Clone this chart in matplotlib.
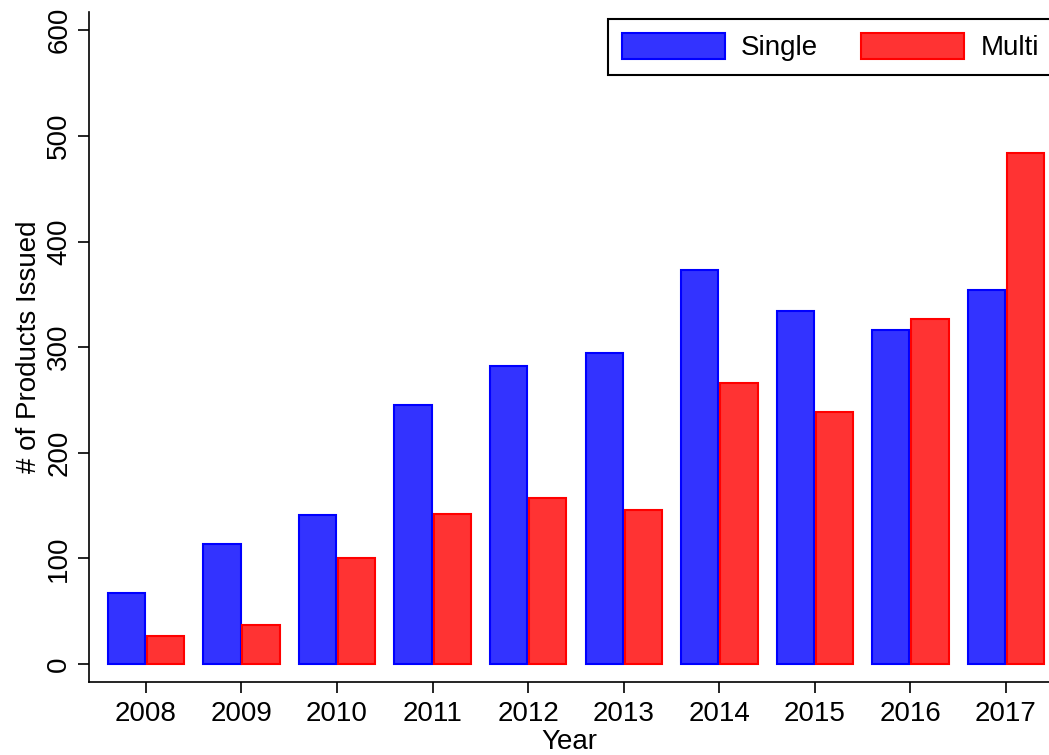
import matplotlib
matplotlib.use("Agg")
import matplotlib.pyplot as plt
import numpy as np

plt.rcParams['font.family'] = ['Liberation Sans', 'DejaVu Sans']

years = [2008, 2009, 2010, 2011, 2012, 2013, 2014, 2015, 2016, 2017]
single = [67, 114, 141, 245, 282, 294, 373, 334, 316, 354]
multi = [27, 37, 100, 142, 157, 146, 266, 239, 327, 484]
yticks = [0, 100, 200, 300, 400, 500, 600]

fig = plt.figure(figsize=(10.49, 7.55), dpi=100)
ax = fig.add_axes([0.0848, 0.0967, 0.9152, 0.887])

x = np.arange(len(years))
w = 0.39
ax.bar(x - w / 2 - 0.01, single, width=w, color='#3333FF', edgecolor='#0000FF',
       linewidth=1.5, label='Single')
ax.bar(x + w / 2 + 0.01, multi, width=w, color='#FF3333', edgecolor='#FF0000',
       linewidth=1.5, label='Multi')

ax.set_xlim(-0.596, 9.45)
ax.set_ylim(-17, 617)
ax.set_xticks(x)
ax.set_xticklabels([str(y) for y in years], fontsize=20)
ax.set_yticks(yticks)
ax.set_yticklabels([str(v) for v in yticks], fontsize=20, rotation=90, va='center')
ax.tick_params(axis='both', length=8, width=1.2, pad=4)
ax.tick_params(axis='x', pad=6)

for s in ['top', 'right']:
    ax.spines[s].set_visible(False)
for s in ['left', 'bottom']:
    ax.spines[s].set_linewidth(1.2)

ax.set_ylabel('# of Products Issued', fontsize=20, labelpad=3)
ax.set_xlabel('Year', fontsize=20, labelpad=1)

leg = ax.legend(loc='upper right', bbox_to_anchor=(1.004, 0.975),
                bbox_transform=fig.transFigure, borderaxespad=0, ncol=2,
                fontsize=20, handlelength=3.7, handleheight=1.05,
                columnspacing=1.55, handletextpad=0.6, borderpad=0.5,
                fancybox=False, edgecolor='black', framealpha=1)
leg.get_frame().set_linewidth(1.5)

fig.savefig('out.png', dpi=100)
